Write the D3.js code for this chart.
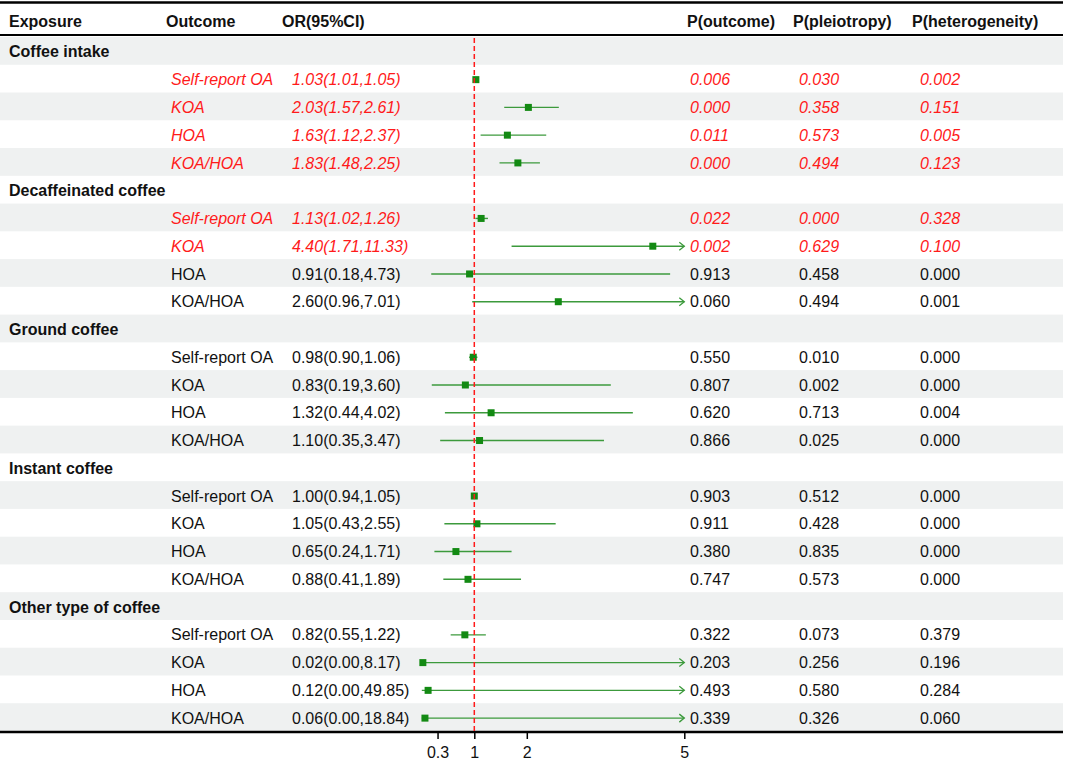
<!DOCTYPE html>
<html>
<head>
<meta charset="utf-8">
<script src="https://cdn.jsdelivr.net/npm/d3@7"></script>
<style>
  body { margin: 0; background: #fff; }
  text { font-family: "Liberation Sans", Arial, sans-serif; }
</style>
</head>
<body>
<script>
(function drawForest() {

// exposure groups, each followed by the same four outcomes
var exposures = ["Coffee intake", "Decaffeinated coffee", "Ground coffee", "Instant coffee", "Other type of coffee"];
var outcomes = ["Self-report OA", "KOA", "HOA", "KOA/HOA"];

// one entry per exposure x outcome, in table order
var orValues = [1.03, 2.03, 1.63, 1.83,  1.13, 4.40, 0.91, 2.60,  0.98, 0.83, 1.32, 1.10,  1.00, 1.05, 0.65, 0.88,  0.82, 0.02, 0.12, 0.06];
var ciLower  = [1.01, 1.57, 1.12, 1.48,  1.02, 1.71, 0.18, 0.96,  0.90, 0.19, 0.44, 0.35,  0.94, 0.43, 0.24, 0.41,  0.55, 0.00, 0.00, 0.00];
var ciUpper  = [1.05, 2.61, 2.37, 2.25,  1.26, 11.33, 4.73, 7.01, 1.06, 3.60, 4.02, 3.47,  1.05, 2.55, 1.71, 1.89,  1.22, 8.17, 49.85, 18.84];
var pOutcome = ["0.006", "0.000", "0.011", "0.000",  "0.022", "0.002", "0.913", "0.060",  "0.550", "0.807", "0.620", "0.866",  "0.903", "0.911", "0.380", "0.747",  "0.322", "0.203", "0.493", "0.339"];
var pPleio   = ["0.030", "0.358", "0.573", "0.494",  "0.000", "0.629", "0.458", "0.494",  "0.010", "0.002", "0.713", "0.025",  "0.512", "0.428", "0.835", "0.573",  "0.073", "0.256", "0.580", "0.326"];
var pHetero  = ["0.002", "0.151", "0.005", "0.123",  "0.328", "0.100", "0.000", "0.001",  "0.000", "0.000", "0.004", "0.000",  "0.000", "0.000", "0.000", "0.000",  "0.379", "0.196", "0.284", "0.060"];
var highlighted = [1, 1, 1, 1,  1, 1, 0, 0,  0, 0, 0, 0,  0, 0, 0, 0,  0, 0, 0, 0];

var tickValues = [0.3, 1, 2, 5];
var headers = ["Exposure", "Outcome", "OR(95%CI)", "P(outcome)", "P(pleiotropy)", "P(heterogeneity)"];

var width = 1065, height = 762;
var red = "#ff1a1a", ink = "#111", shade = "#eff1f1";
var lineGreen = "#3c9a3c", boxGreen = "#138a13";

// flatten into table rows: a group header row, then its four results
var rows = [];
exposures.forEach(function(g, gi) {
  rows.push({ type: "group", label: g });
  outcomes.forEach(function(o, oi) {
    var k = gi * 4 + oi;
    rows.push({ type: "item", outcome: o, or: orValues[k], lo: ciLower[k], hi: ciUpper[k],
      p1: pOutcome[k], p2: pPleio[k], p3: pHetero[k], red: highlighted[k] === 1 });
  });
});

var svg = d3.select("body").append("svg")
  .attr("width", width)
  .attr("height", height);

var y = d3.scaleBand()
  .domain(d3.range(rows.length))
  .range([37, 731]);

var x = d3.scaleLinear()
  .domain([0, 5])
  .range([421.8, 684.3]);

// zebra shading
svg.selectAll("rect.shade")
  .data(rows)
  .enter()
  .filter(function(d, i) { return i % 2 === 0; })
  .append("rect")
  .attr("class", "shade")
  .attr("x", 0)
  .attr("width", 1063)
  .attr("y", function(d) { return y(rows.indexOf(d)); })
  .attr("height", y.bandwidth())
  .attr("fill", shade);

// header
var headX = [9, 166, 282, 687, 793, 912];
svg.selectAll("text.head")
  .data(headers)
  .enter()
  .append("text")
  .attr("class", "head")
  .attr("x", function(d, i) { return headX[i]; })
  .attr("y", 21)
  .attr("dy", "0.35em")
  .attr("font-size", 16)
  .attr("font-weight", "bold")
  .attr("fill", ink)
  .text(function(d) { return d; });

// rule lines
[[2.5, 2.5], [35, 2], [732, 2.5]].forEach(function(l) {
  svg.append("line")
    .attr("x1", 0).attr("x2", 1063)
    .attr("y1", l[0]).attr("y2", l[0])
    .attr("stroke", "#000")
    .attr("stroke-width", l[1]);
});

var rowG = svg.selectAll("g.row")
  .data(rows)
  .enter()
  .append("g")
  .attr("class", "row")
  .attr("transform", function(d, i) { return "translate(0," + (y(i) + y.bandwidth() / 2 + 1) + ")"; });

rowG.filter(function(d) { return d.type === "group"; })
  .append("text")
  .attr("x", 9)
  .attr("dy", "0.35em")
  .attr("font-size", 16)
  .attr("font-weight", "bold")
  .attr("fill", ink)
  .text(function(d) { return d.label; });

var items = rowG.filter(function(d) { return d.type === "item"; });

var fmt = d3.format(".2f");
var cells = [
  { x: 171, f: function(d) { return d.outcome; } },
  { x: 292, f: function(d) { return fmt(d.or) + "(" + fmt(d.lo) + "," + fmt(d.hi) + ")"; } },
  { x: 690, f: function(d) { return d.p1; } },
  { x: 799, f: function(d) { return d.p2; } },
  { x: 920, f: function(d) { return d.p3; } }
];
cells.forEach(function(c) {
  items.append("text")
    .attr("x", c.x)
    .attr("dy", "0.35em")
    .attr("font-size", 16)
    .attr("font-style", function(d) { return d.red ? "italic" : "normal"; })
    .attr("fill", function(d) { return d.red ? red : ink; })
    .text(c.f);
});

// reference line at OR = 1
svg.append("line")
  .attr("x1", x(1)).attr("x2", x(1))
  .attr("y1", 38).attr("y2", 731)
  .attr("stroke", red)
  .attr("stroke-width", 1.5)
  .attr("stroke-dasharray", "5,3");

// confidence intervals, clipped at the axis end with an arrow
var xMax = x.domain()[1];
items.append("line")
  .attr("x1", function(d) { return x(Math.max(d.lo, 0)); })
  .attr("x2", function(d) { return x(Math.min(d.hi, xMax)); })
  .attr("stroke", lineGreen)
  .attr("stroke-width", 1.4);

items.filter(function(d) { return d.hi > xMax; })
  .append("path")
  .attr("d", function() { var e = x(xMax); return "M" + (e - 5) + ",-4L" + e + ",0L" + (e - 5) + ",4"; })
  .attr("fill", "none")
  .attr("stroke", lineGreen)
  .attr("stroke-width", 1.3);

items.append("rect")
  .attr("x", function(d) { return x(d.or) - 3.5; })
  .attr("y", -3.5)
  .attr("width", 7)
  .attr("height", 7)
  .attr("fill", boxGreen);

// x axis under the table
var axis = d3.axisBottom(x)
  .tickValues(tickValues)
  .tickSize(7)
  .tickFormat(function(d) { return String(d); });

var ax = svg.append("g")
  .attr("transform", "translate(0,732)")
  .call(axis);
ax.select(".domain").remove();
ax.selectAll(".tick line").attr("stroke", "#000").attr("stroke-width", 1.5);
ax.selectAll(".tick text")
  .style("font-family", "Liberation Sans, Arial, sans-serif")
  .style("font-size", "16px")
  .attr("fill", ink)
  .attr("y", 15);

})();
</script>
</body>
</html>
